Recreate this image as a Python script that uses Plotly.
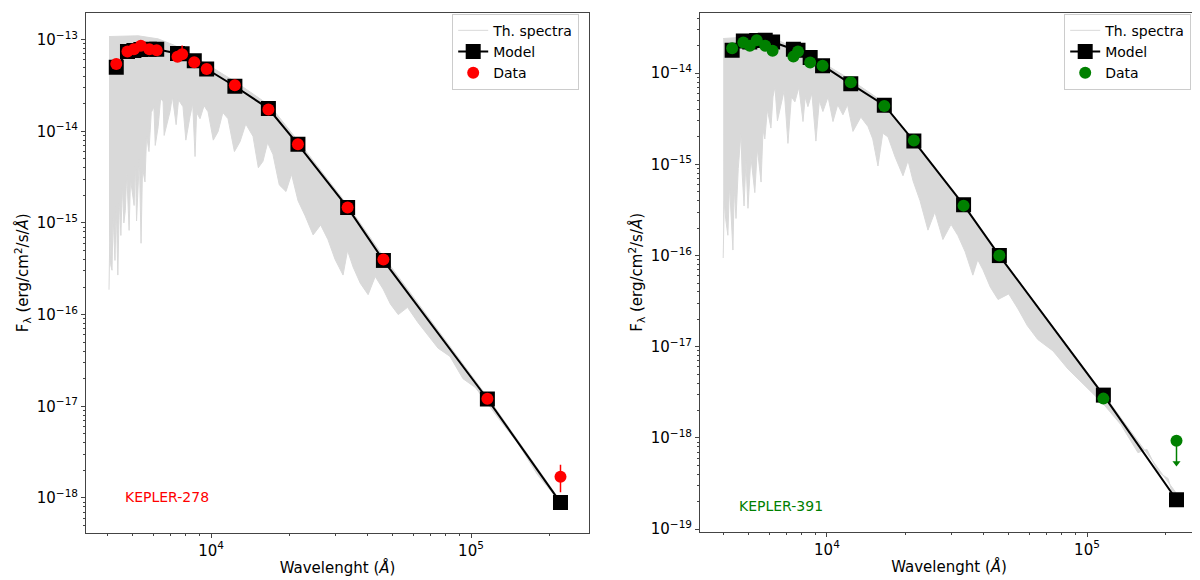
import plotly.graph_objects as go

# photometric bands (Angstrom), shared by both stars
bands = [4320, 4770, 5050, 5370, 5790, 6180, 7430, 7740, 8620, 9620,
         12350, 16620, 21590, 33526, 46028, 115608, 220883]

# KEPLER-278
data_278 = [5.42e-14, 7.42e-14, 7.85e-14, 8.55e-14, 7.85e-14, 7.67e-14, 6.5e-14, 6.93e-14, 5.65e-14,
            4.78e-14, 3.17e-14, 1.73e-14, 7.2e-15, 1.47e-15, 4.0e-16, 1.21e-17, 1.7e-18]
err_up_278 = [0, 0, 0, 0, 0, 0, 0, 1.7e-14, 0, 0, 0, 0, 0, 0, 0, 0, 0.6e-18]
err_lo_278 = [0, 0, 0, 0, 0, 0, 0, 0, 0, 0, 0, 0, 0, 0, 0, 0, 0.55e-18]
model_278 = [4.99e-14, 7.4e-14, 7.6e-14, 7.8e-14, 7.85e-14, 7.85e-14, 7.06e-14, 7.0e-14, 5.89e-14,
             4.78e-14, 3.10e-14, 1.77e-14, 7.2e-15, 1.47e-15, 3.9e-16, 1.2e-17, 8.9e-19]

# theoretical spectrum of KEPLER-278, read as upper / lower envelope
spec_top_w_278 = [4050, 5240, 6250, 7140, 7800, 9740, 12480, 16860, 21800, 33900, 46300, 116000, 220000]
spec_top_f_278 = [1.08e-13, 1.1e-13, 1.02e-13, 8.8e-14, 7.8e-14, 5.24e-14, 3.43e-14, 1.9e-14, 7.6e-15,
                  1.5e-15, 4.2e-16, 1.25e-17, 9.4e-19]
spec_low_w_278 = [4050, 4080, 4110, 4160, 4200, 4270, 4320, 4380, 4440, 4500, 4560, 4620, 4680, 4740,
                  4840, 4900, 5060, 5120, 5170, 5240, 5300, 5380, 5450, 5570, 5650, 5770, 5890, 6030,
                  6100, 6260, 6400, 6540, 6600, 6950, 7100, 7340, 7500, 7800, 8000, 8300, 8500, 8680,
                  8800, 9070, 9400, 9740, 10200, 10640, 11100, 11620, 12300, 12930, 13600, 14500,
                  15200, 15840, 16500, 17300, 18300, 19420, 20400, 21600, 23000, 24700, 26400, 28150,
                  30000, 32200, 33500, 35200, 37500, 40200, 42800, 45900, 49000, 52500, 57000, 62500,
                  68000, 74700, 83000, 93100, 104000, 116000, 132000, 151000, 180000, 220000]
spec_low_f_278 = [1.87e-16, 8e-16, 3.5e-16, 3.05e-16, 1.2e-15, 3.9e-16, 1.5e-15, 2.7e-16, 1.8e-15,
                  7.3e-16, 2.6e-15, 1.0e-15, 1.37e-15, 3.5e-15, 8.3e-16, 3.0e-15, 1.55e-15, 4.5e-15,
                  1.05e-15, 2.5e-15, 5.0e-15, 6e-16, 4.0e-15, 2.8e-15, 9.0e-15, 6.0e-15, 1.6e-14,
                  1.85e-14, 7.0e-15, 1.12e-14, 2.3e-14, 2.1e-14, 9.0e-15, 1.63e-14, 2.4e-14, 1.18e-14,
                  2.2e-14, 1.85e-14, 8.0e-15, 1.45e-14, 2.0e-14, 5.3e-15, 1.6e-14, 1.37e-14, 1.9e-14,
                  1.63e-14, 8.0e-15, 9.9e-15, 1.6e-14, 1.37e-14, 6.0e-15, 7.7e-15, 1.2e-14, 8.8e-15,
                  4.0e-15, 4.7e-15, 7.5e-15, 5.6e-15, 2.6e-15, 2.2e-15, 3.4e-15, 1.75e-15, 1.2e-15,
                  7.4e-16, 9.5e-16, 6.6e-16, 4.0e-16, 2.7e-16, 5.0e-16, 3.3e-16, 2.2e-16, 1.65e-16,
                  2.6e-16, 1.9e-16, 1.3e-16, 1.0e-16, 1.2e-16, 8.2e-17, 6.0e-17, 4.3e-17, 3.5e-17,
                  2.0e-17, 1.6e-17, 1.05e-17, 6.5e-18, 4.0e-18, 1.8e-18, 9e-19]

# KEPLER-391 (last point is an upper limit)
data_391 = [1.88e-14, 2.17e-14, 2.0e-14, 2.30e-14, 2.0e-14, 1.76e-14, 1.52e-14, 1.73e-14, 1.31e-14,
            1.21e-14, 7.98e-15, 4.38e-15, 1.83e-15, 3.53e-16, 1.0e-16, 2.7e-18, 9.3e-19]
ulim_tip_391 = 5.3e-19
model_391 = [1.79e-14, 2.26e-14, 2.2e-14, 2.28e-14, 2.30e-14, 2.2e-14, 1.83e-14, 1.78e-14, 1.49e-14,
             1.21e-14, 7.65e-15, 4.46e-15, 1.8e-15, 3.6e-16, 1.0e-16, 2.95e-18, 2.1e-19]

spec_top_w_391 = [3990, 5930, 6770, 8450, 9650, 12260, 16420, 20500, 32800, 45500, 115000, 220000]
spec_top_f_391 = [2.4e-14, 2.58e-14, 2.17e-14, 1.6e-14, 1.3e-14, 8.6e-15, 4.85e-15, 2.1e-15, 3.9e-16,
                  1.06e-16, 3.1e-18, 2.5e-19]
spec_low_w_391 = [3990, 4030, 4080, 4160, 4220, 4350, 4400, 4470, 4560, 4670, 4720, 4800, 4880, 4970,
                  5100, 5280, 5400, 5580, 5680, 5770, 5900, 6090, 6200, 6310, 6450, 6650, 6850, 7080,
                  7300, 7530, 7800, 8090, 8250, 8450, 8750, 9070, 9350, 9650, 10100, 10550, 11000,
                  11520, 12000, 12590, 13500, 14380, 15000, 15710, 16400, 17170, 18300, 19610, 20500,
                  21430, 22800, 24460, 26000, 27920, 30000, 31880, 34000, 36400, 38000, 39800, 42500,
                  45500, 50000, 54300, 59000, 64700, 74000, 84500, 98000, 115000, 135000, 157000,
                  170000, 188000, 205000, 220000]
spec_low_f_391 = [9.4e-17, 4e-16, 2.5e-16, 1.67e-16, 6e-16, 1.15e-16, 5.5e-16, 2.55e-16, 9e-16,
                  2.2e-15, 8e-16, 3.5e-16, 1.1e-15, 3.3e-16, 1.2e-15, 4.9e-16, 1.5e-15, 6.4e-16,
                  2.4e-15, 1.9e-15, 4.0e-15, 2.5e-15, 5.5e-15, 7.1e-15, 3.0e-15, 4.3e-15, 6.5e-15,
                  1.7e-15, 5.5e-15, 4.85e-15, 7.0e-15, 2.95e-15, 5.5e-15, 4.3e-15, 6.0e-15, 1.8e-15,
                  5.0e-15, 3.8e-15, 5.5e-15, 2.95e-15, 4.5e-15, 3.5e-15, 4.5e-15, 2.3e-15, 3.3e-15,
                  2.6e-15, 1.9e-15, 9.6e-16, 2.2e-15, 2.0e-15, 1.2e-15, 7.5e-16, 1.1e-15, 6.6e-16,
                  4.0e-16, 1.9e-16, 3.0e-16, 1.5e-16, 2.2e-16, 1.66e-16, 1.1e-16, 6.1e-17, 9.0e-17,
                  7e-17, 4.5e-17, 3.3e-17, 3.8e-17, 2.6e-17, 1.7e-17, 1.2e-17, 9.0e-18, 5.7e-18,
                  3.8e-18, 2.4e-18, 1.4e-18, 6.9e-19, 7.5e-19, 4.2e-19, 3.6e-19, 1.8e-19]

spec_col = "#d9d9d9"
font = "DejaVu Sans"

fig = go.Figure()


def add_star(xa, ya, leg, sw_lo, sf_lo, sw_hi, sf_hi, model, data, col, err=None):
    fig.add_trace(go.Scatter(x=sw_lo, y=sf_lo, mode="lines", line=dict(color=spec_col, width=1),
                             name="Th. spectra", xaxis=xa, yaxis=ya, legend=leg))
    fig.add_trace(go.Scatter(x=sw_hi, y=sf_hi, mode="lines", line=dict(color=spec_col, width=1),
                             fill="tonexty", fillcolor=spec_col, showlegend=False,
                             xaxis=xa, yaxis=ya, legend=leg))
    fig.add_trace(go.Scatter(x=bands, y=model, mode="lines+markers", name="Model",
                             line=dict(color="black", width=2),
                             marker=dict(symbol="square", size=15, color="black"),
                             xaxis=xa, yaxis=ya, legend=leg))
    fig.add_trace(go.Scatter(x=bands, y=data, mode="markers", name="Data",
                             marker=dict(symbol="circle", size=12, color=col),
                             error_y=err, xaxis=xa, yaxis=ya, legend=leg))


add_star("x", "y", "legend", spec_low_w_278, spec_low_f_278, spec_top_w_278, spec_top_f_278,
         model_278, data_278, "red",
         dict(type="data", symmetric=False, array=err_up_278, arrayminus=err_lo_278,
              color="red", width=0, thickness=1.5))

err_lo_391 = [0] * (len(bands) - 1) + [data_391[-1] - ulim_tip_391]
add_star("x2", "y2", "legend2", spec_low_w_391, spec_low_f_391, spec_top_w_391, spec_top_f_391,
         model_391, data_391, "green",
         dict(type="data", symmetric=False, array=[0] * len(bands), arrayminus=err_lo_391,
              color="green", width=0, thickness=1.5))
# arrow head of the upper limit
fig.add_trace(go.Scatter(x=[bands[-1]], y=[ulim_tip_391], mode="markers", showlegend=False,
                         marker=dict(symbol="triangle-down", size=7, color="green"),
                         xaxis="x2", yaxis="y2"))


def exp_label(e):
    return "10<sup>" + str(e).replace("-", "\u2212") + "</sup>"


def minor_vals(lo, hi):
    return [k * 10.0 ** e for e in range(lo, hi) for k in range(2, 10)]


axis_common = dict(type="log", showgrid=False, zeroline=False, showline=True, mirror=True,
                   linecolor="#444", linewidth=1, ticks="outside", ticklen=4, tickcolor="#444",
                   tickfont=dict(family=font, size=15, color="black"))

x_ticks = [1e4, 1e5]
x_title = dict(text="Wavelenght (<i>Å</i>)", font=dict(family=font, size=15, color="black"), standoff=3)
y_title = dict(text="F<sub>λ</sub> (erg/cm<sup>2</sup>/s/<i>Å</i>)",
               font=dict(family=font, size=15, color="black"), standoff=4)

y_ticks_278 = [1e-13, 1e-14, 1e-15, 1e-16, 1e-17, 1e-18]
y_ticks_391 = [1e-14, 1e-15, 1e-16, 1e-17, 1e-18, 1e-19]

legend_common = dict(y=0.99, xanchor="right", yanchor="top", bgcolor="rgba(255,255,255,0.8)",
                     bordercolor="#cccccc", borderwidth=1, font=dict(family=font, size=14),
                     itemwidth=30, tracegroupgap=0, traceorder="normal")

fig.update_layout(
    width=1200, height=580,
    margin=dict(l=0, r=0, t=0, b=0),
    paper_bgcolor="white", plot_bgcolor="white",
    font=dict(family=font, color="black"),
    xaxis=dict(axis_common, domain=[0.065, 0.4842], range=[3.519, 5.454], anchor="y",
               tickvals=x_ticks, ticktext=[exp_label(4), exp_label(5)], title=x_title,
               minor=dict(tickvals=minor_vals(3, 6), ticks="outside", ticklen=2, tickcolor="#444")),
    yaxis=dict(axis_common, domain=[0.0845, 0.9914], range=[-18.378, -12.709], anchor="x",
               tickvals=y_ticks_278, ticktext=[exp_label(e) for e in range(-13, -19, -1)], title=y_title,
               minor=dict(tickvals=minor_vals(-19, -12), ticks="outside", ticklen=2, tickcolor="#444")),
    xaxis2=dict(axis_common, domain=[0.5767, 0.9917], range=[3.512, 5.427], anchor="y2",
                tickvals=x_ticks, ticktext=[exp_label(4), exp_label(5)], title=x_title,
                minor=dict(tickvals=minor_vals(3, 6), ticks="outside", ticklen=2, tickcolor="#444")),
    yaxis2=dict(axis_common, domain=[0.0862, 0.9914], range=[-19.027, -13.339], anchor="x2",
                tickvals=y_ticks_391, ticktext=[exp_label(e) for e in range(-14, -20, -1)], title=y_title,
                minor=dict(tickvals=minor_vals(-20, -13), ticks="outside", ticklen=2, tickcolor="#444")),
    legend=dict(legend_common, x=0.476),
    legend2=dict(legend_common, x=0.986),
    annotations=[
        dict(text="KEPLER-278", xref="x domain", yref="y domain", x=0.0736, y=0.068,
             xanchor="left", yanchor="middle", showarrow=False,
             font=dict(family=font, size=14, color="red")),
        dict(text="KEPLER-391", xref="x2 domain", yref="y2 domain", x=0.074, y=0.0495,
             xanchor="left", yanchor="middle", showarrow=False,
             font=dict(family=font, size=14, color="green")),
    ],
)

fig.write_html("out.html")
